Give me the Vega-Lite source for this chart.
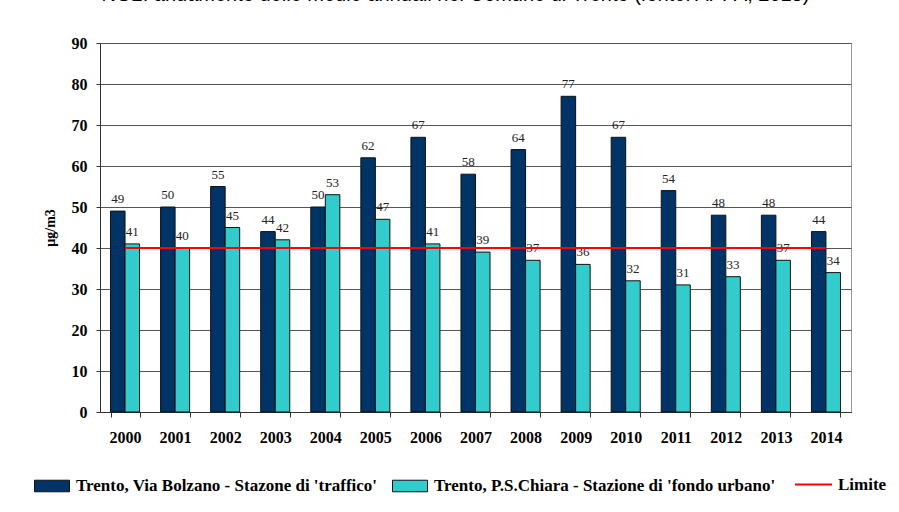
{
  "$schema": "https://vega.github.io/schema/vega-lite/v6.json",
  "width": 751,
  "height": 369,
  "autosize": "none",
  "padding": {"left": 100, "top": 43, "right": 48, "bottom": 100},
  "background": "white",
  "title": {
    "text": "NO2: andamento delle medie annuali nel Comune di Trento (fonte: APPA, 2015)",
    "font": "'Liberation Sans', Arial, sans-serif",
    "fontSize": 20,
    "fontWeight": "normal",
    "color": "#000",
    "frame": "group",
    "anchor": "middle",
    "offset": 30,
    "dx": -20
  },
  "config": {
    "view": {"stroke": "#999", "strokeWidth": 1},
    "axis": {"labelFont": "'Liberation Serif', 'Times New Roman', serif", "titleFont": "'Liberation Serif', 'Times New Roman', serif"}
  },
  "datasets": {
    "bars": [
      {"year": "2000", "series": "Trento, Via Bolzano - Stazone di 'traffico'", "value": 49},
      {"year": "2001", "series": "Trento, Via Bolzano - Stazone di 'traffico'", "value": 50},
      {"year": "2002", "series": "Trento, Via Bolzano - Stazone di 'traffico'", "value": 55},
      {"year": "2003", "series": "Trento, Via Bolzano - Stazone di 'traffico'", "value": 44},
      {"year": "2004", "series": "Trento, Via Bolzano - Stazone di 'traffico'", "value": 50},
      {"year": "2005", "series": "Trento, Via Bolzano - Stazone di 'traffico'", "value": 62},
      {"year": "2006", "series": "Trento, Via Bolzano - Stazone di 'traffico'", "value": 67},
      {"year": "2007", "series": "Trento, Via Bolzano - Stazone di 'traffico'", "value": 58},
      {"year": "2008", "series": "Trento, Via Bolzano - Stazone di 'traffico'", "value": 64},
      {"year": "2009", "series": "Trento, Via Bolzano - Stazone di 'traffico'", "value": 77},
      {"year": "2010", "series": "Trento, Via Bolzano - Stazone di 'traffico'", "value": 67},
      {"year": "2011", "series": "Trento, Via Bolzano - Stazone di 'traffico'", "value": 54},
      {"year": "2012", "series": "Trento, Via Bolzano - Stazone di 'traffico'", "value": 48},
      {"year": "2013", "series": "Trento, Via Bolzano - Stazone di 'traffico'", "value": 48},
      {"year": "2014", "series": "Trento, Via Bolzano - Stazone di 'traffico'", "value": 44},
      {"year": "2000", "series": "Trento, P.S.Chiara - Stazione di 'fondo urbano'", "value": 41},
      {"year": "2001", "series": "Trento, P.S.Chiara - Stazione di 'fondo urbano'", "value": 40},
      {"year": "2002", "series": "Trento, P.S.Chiara - Stazione di 'fondo urbano'", "value": 45},
      {"year": "2003", "series": "Trento, P.S.Chiara - Stazione di 'fondo urbano'", "value": 42},
      {"year": "2004", "series": "Trento, P.S.Chiara - Stazione di 'fondo urbano'", "value": 53},
      {"year": "2005", "series": "Trento, P.S.Chiara - Stazione di 'fondo urbano'", "value": 47},
      {"year": "2006", "series": "Trento, P.S.Chiara - Stazione di 'fondo urbano'", "value": 41},
      {"year": "2007", "series": "Trento, P.S.Chiara - Stazione di 'fondo urbano'", "value": 39},
      {"year": "2008", "series": "Trento, P.S.Chiara - Stazione di 'fondo urbano'", "value": 37},
      {"year": "2009", "series": "Trento, P.S.Chiara - Stazione di 'fondo urbano'", "value": 36},
      {"year": "2010", "series": "Trento, P.S.Chiara - Stazione di 'fondo urbano'", "value": 32},
      {"year": "2011", "series": "Trento, P.S.Chiara - Stazione di 'fondo urbano'", "value": 31},
      {"year": "2012", "series": "Trento, P.S.Chiara - Stazione di 'fondo urbano'", "value": 33},
      {"year": "2013", "series": "Trento, P.S.Chiara - Stazione di 'fondo urbano'", "value": 37},
      {"year": "2014", "series": "Trento, P.S.Chiara - Stazione di 'fondo urbano'", "value": 34}
    ],
    "limit": [
      {"year": "2000", "label": "Limite", "value": 40},
      {"year": "2001", "label": "Limite", "value": 40},
      {"year": "2002", "label": "Limite", "value": 40},
      {"year": "2003", "label": "Limite", "value": 40},
      {"year": "2004", "label": "Limite", "value": 40},
      {"year": "2005", "label": "Limite", "value": 40},
      {"year": "2006", "label": "Limite", "value": 40},
      {"year": "2007", "label": "Limite", "value": 40},
      {"year": "2008", "label": "Limite", "value": 40},
      {"year": "2009", "label": "Limite", "value": 40},
      {"year": "2010", "label": "Limite", "value": 40},
      {"year": "2011", "label": "Limite", "value": 40},
      {"year": "2012", "label": "Limite", "value": 40},
      {"year": "2013", "label": "Limite", "value": 40},
      {"year": "2014", "label": "Limite", "value": 40}
    ]
  },
  "encoding": {
    "x": {
      "field": "year",
      "type": "nominal",
      "scale": {"paddingInner": 0.42, "paddingOuter": 0.21},
      "axis": {
        "title": null,
        "labelAngle": 0,
        "labelFontSize": 16,
        "labelFontWeight": "bold",
        "labelColor": "#000",
        "labelPadding": 12,
        "tickBand": "extent",
        "tickSize": 5,
        "tickColor": "#333",
        "domainColor": "#333",
        "grid": false
      }
    },
    "y": {
      "field": "value",
      "type": "quantitative",
      "scale": {"domain": [0, 90], "nice": false},
      "axis": {
        "title": "µg/m3",
        "titleFontSize": 14,
        "titleFontWeight": "bold",
        "titleColor": "#000",
        "titlePadding": 14,
        "values": [0, 10, 20, 30, 40, 50, 60, 70, 80, 90],
        "labelFontSize": 16,
        "labelFontWeight": "bold",
        "labelColor": "#000",
        "labelPadding": 9,
        "tickSize": 4,
        "tickColor": "#333",
        "domainColor": "#333",
        "gridColor": "#555",
        "gridWidth": 1
      }
    }
  },
  "layer": [
    {
      "data": {"name": "bars"},
      "mark": {"type": "bar", "stroke": "#111", "strokeWidth": 1},
      "encoding": {
        "xOffset": {
          "field": "series",
          "type": "nominal",
          "sort": ["Trento, Via Bolzano - Stazone di 'traffico'", "Trento, P.S.Chiara - Stazione di 'fondo urbano'"],
          "scale": {"paddingInner": 0, "paddingOuter": 0}
        },
        "fill": {
          "field": "series",
          "type": "nominal",
          "sort": ["Trento, Via Bolzano - Stazone di 'traffico'", "Trento, P.S.Chiara - Stazione di 'fondo urbano'"],
          "scale": {
            "domain": ["Trento, Via Bolzano - Stazone di 'traffico'", "Trento, P.S.Chiara - Stazione di 'fondo urbano'"],
            "range": ["#003366", "#33CCCC"]
          },
          "legend": {
            "title": null,
            "orient": "none",
            "legendX": -66,
            "legendY": 425,
            "direction": "horizontal",
            "symbolType": "M-1,-0.33H1V0.33H-1Z",
            "symbolSize": 1225,
            "symbolStrokeColor": "#111",
            "symbolStrokeWidth": 1,
            "labelFont": "'Liberation Serif', 'Times New Roman', serif",
            "labelFontSize": 17,
            "labelFontWeight": "bold",
            "labelColor": "#000",
            "labelLimit": 0,
            "labelOffset": 6,
            "columnPadding": 12
          }
        }
      }
    },
    {
      "data": {"name": "bars"},
      "mark": {"type": "text", "font": "'Liberation Serif', 'Times New Roman', serif", "fontSize": 13, "color": "#222", "baseline": "bottom", "dy": -5},
      "encoding": {
        "xOffset": {
          "field": "series",
          "type": "nominal",
          "sort": ["Trento, Via Bolzano - Stazone di 'traffico'", "Trento, P.S.Chiara - Stazione di 'fondo urbano'"]
        },
        "text": {"field": "value", "type": "quantitative"}
      }
    },
    {
      "data": {"name": "limit"},
      "mark": {"type": "line", "strokeWidth": 2},
      "encoding": {
        "stroke": {
          "field": "label",
          "type": "nominal",
          "scale": {"domain": ["Limite"], "range": ["#FF0000"]},
          "legend": {
            "title": null,
            "orient": "none",
            "legendX": 694,
            "legendY": 422,
            "symbolType": "stroke",
            "symbolSize": 1369,
            "symbolStrokeWidth": 2,
            "labelFont": "'Liberation Serif', 'Times New Roman', serif",
            "labelFontSize": 17,
            "labelFontWeight": "bold",
            "labelColor": "#000",
            "labelLimit": 0,
            "labelOffset": 5
          }
        }
      }
    }
  ]
}
